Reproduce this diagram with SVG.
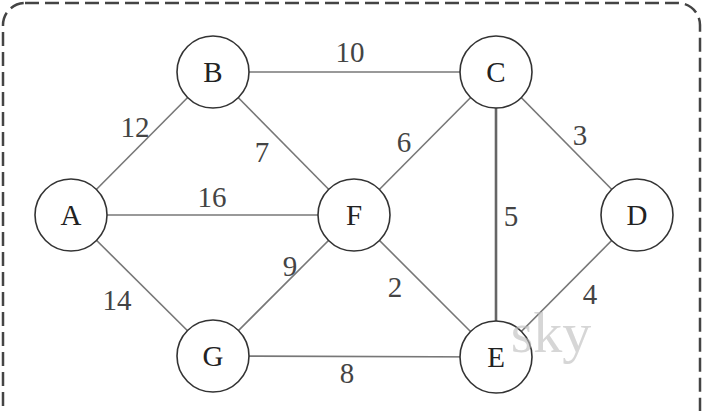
<svg xmlns="http://www.w3.org/2000/svg" width="703" height="411" viewBox="0 0 703 411">
<style>
.node circle{fill:#fff;stroke:#333;stroke-width:1.6}
.node text{font-family:"Liberation Serif",serif;font-size:29px;fill:#222;text-anchor:middle}
.edge{stroke:#777;stroke-width:1.6;fill:none}
.lbl{font-family:"Liberation Serif",serif;font-size:29px;fill:#444;text-anchor:middle}
</style>
<rect x="0" y="0" width="703" height="411" fill="#fff"/>
<rect x="3" y="3" width="697" height="440" rx="22" ry="22" fill="none" stroke="#444" stroke-width="2.5" stroke-dasharray="14 6"/>
<g id="connectors">
<line class="edge" x1="71" y1="215" x2="213" y2="72"/>
<line class="edge" x1="71" y1="215" x2="354" y2="215"/>
<line class="edge" x1="71" y1="215" x2="213" y2="356"/>
<line class="edge" x1="213" y1="72" x2="496" y2="72"/>
<line class="edge" x1="213" y1="72" x2="354" y2="215"/>
<line class="edge" x1="496" y1="72" x2="354" y2="215"/>
<line class="edge" x1="496" y1="72" x2="637" y2="215"/>
<line class="edge" x1="496" y1="72" x2="496" y2="357" style="stroke-width:2.6;stroke:#666"/>
<line class="edge" x1="354" y1="215" x2="213" y2="356"/>
<line class="edge" x1="354" y1="215" x2="496" y2="357"/>
<line class="edge" x1="637" y1="215" x2="496" y2="357"/>
<line class="edge" x1="213" y1="356" x2="496" y2="357"/>
<text class="lbl" x="350" y="62">10</text>
<text class="lbl" x="135" y="137">12</text>
<text class="lbl" x="262" y="162">7</text>
<text class="lbl" x="404" y="152">6</text>
<text class="lbl" x="580" y="145">3</text>
<text class="lbl" x="212" y="207">16</text>
<text class="lbl" x="511" y="226">5</text>
<text class="lbl" x="290" y="276">9</text>
<text class="lbl" x="395" y="297">2</text>
<text class="lbl" x="590" y="304">4</text>
<text class="lbl" x="117" y="310">14</text>
<text class="lbl" x="347" y="383">8</text>
</g>
<g id="node-A" class="node"><circle cx="71" cy="215" r="36"/><text x="71" y="225">A</text></g>
<g id="node-B" class="node"><circle cx="213" cy="72" r="36"/><text x="213" y="82">B</text></g>
<g id="node-C" class="node"><circle cx="496" cy="72" r="36"/><text x="496" y="82">C</text></g>
<g id="node-D" class="node"><circle cx="637" cy="215" r="36"/><text x="637" y="225">D</text></g>
<g id="node-F" class="node"><circle cx="354" cy="215" r="36"/><text x="354" y="225">F</text></g>
<g id="node-G" class="node"><circle cx="213" cy="356" r="36"/><text x="213" y="366">G</text></g>
<g id="node-E" class="node"><circle cx="496" cy="357" r="36"/><text x="496" y="367">E</text></g>
<text x="551" y="352" font-family="Liberation Serif,serif" font-size="58" fill="#bbb" fill-opacity="0.6" text-anchor="middle">sky</text>
</svg>
